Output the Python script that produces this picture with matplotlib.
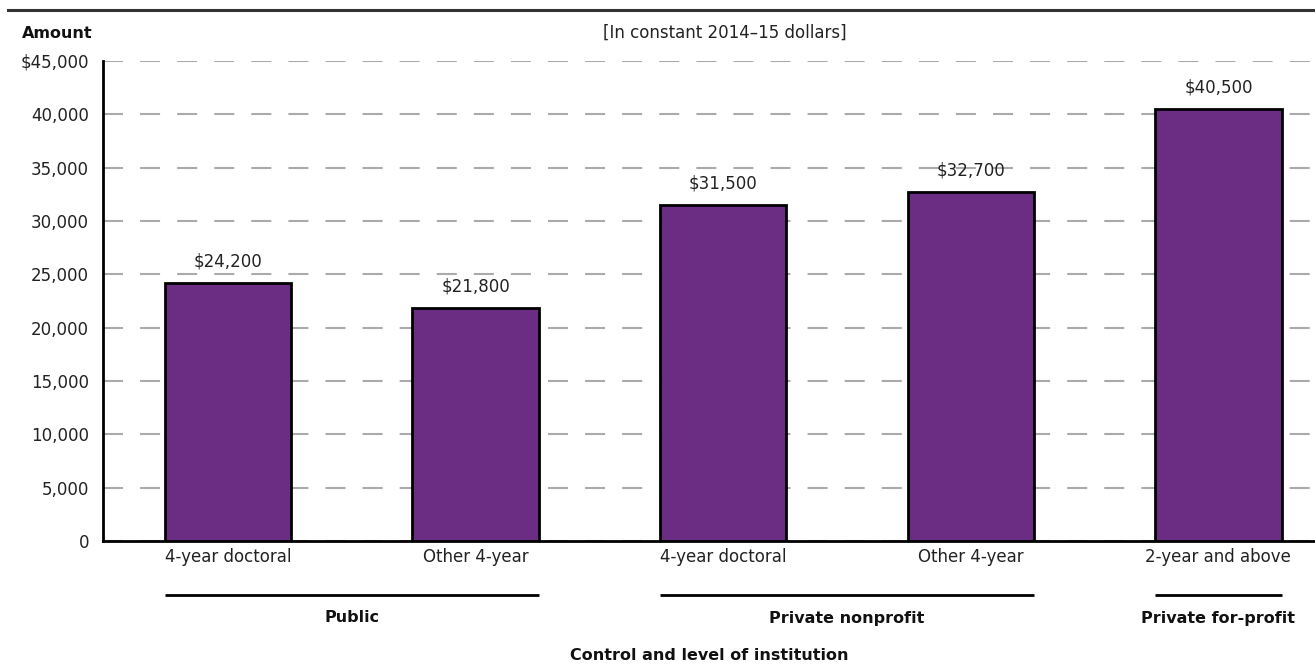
import matplotlib
matplotlib.use("Agg")
import matplotlib.pyplot as plt

categories = ["4-year doctoral", "Other 4-year", "4-year doctoral", "Other 4-year", "2-year and above"]
values = [24200, 21800, 31500, 32700, 40500]
value_labels = ["$24,200", "$21,800", "$31,500", "$32,700", "$40,500"]
groups = ["Public", "Private nonprofit", "Private for-profit"]
group_members = [[0, 1], [2, 3], [4]]
yticks = [0, 5000, 10000, 15000, 20000, 25000, 30000, 35000, 40000, 45000]
ytick_labels = ["0", "5,000", "10,000", "15,000", "20,000", "25,000", "30,000", "35,000", "40,000", "$45,000"]

plt.rcParams['font.family'] = ['DejaVu Sans']
FS = 12
FSB = 11.5
W, H = 1315, 666
fig = plt.figure(figsize=(W / 100, H / 100), dpi=100)
ax = fig.add_axes([103 / W, 1 - 541 / H, (W - 103) / W, (541 - 61) / H])

bar_color = "#6B2C83"
x = list(range(len(values)))
bw = 0.51
ax.bar(x, values, width=bw, color=bar_color, edgecolor="black", linewidth=2, zorder=3)
for xi, v, lab in zip(x, values, value_labels):
    ax.annotate(lab, (xi, v), xytext=(0, 9), textcoords="offset points",
                ha="center", va="bottom", fontsize=FS, color="#222222")

ax.set_xlim(-0.505, 4.39)
ax.set_ylim(0, 45000)
ax.set_yticks(yticks)
ax.set_yticklabels(ytick_labels, fontsize=FS, color="#222222")
ax.set_xticks(x)
ax.set_xticklabels(categories, fontsize=FS, color="#222222")
ax.tick_params(axis="both", length=0, pad=5)
ax.tick_params(axis="y", pad=10)

lw = 1.5
ax.yaxis.grid(True, color="#aaaaaa", linewidth=lw, linestyle=(0, (9.6, 8.2)), zorder=0)
ax.set_axisbelow(True)
for s in ["top", "right"]:
    ax.spines[s].set_visible(False)
ax.spines["left"].set_linewidth(2)
ax.spines["bottom"].set_linewidth(2)
ax.spines["left"].set_zorder(4)

# group lines and labels
trans = ax.get_xaxis_transform()
for g, mem in zip(groups, group_members):
    x0 = min(mem) - bw / 2
    x1 = max(mem) + bw / 2
    ax.plot([x0, x1], [-(595 - 541) / 480, -(595 - 541) / 480], transform=trans,
            color="black", linewidth=2, clip_on=False, solid_capstyle="butt")
    ax.text((x0 + x1) / 2, -(618 - 541) / 480, g, transform=trans, ha="center", va="center",
            fontsize=FSB, fontweight="bold", color="#111111")

fig.text(709 / W, 1 - 656 / H, "Control and level of institution", ha="center", va="center",
         fontsize=FSB, fontweight="bold", color="#111111")
fig.text(22 / W, 1 - 33 / H, "Amount", ha="left", va="center", fontsize=FSB,
         fontweight="bold", color="#111111")
fig.text(725 / W, 1 - 33 / H, "[In constant 2014\u201315 dollars]", ha="center", va="center",
         fontsize=FS, color="#222222")

# top rule
fig.add_artist(plt.Line2D([8 / W, 1], [1 - 10 / H, 1 - 10 / H], color="#333333", linewidth=2.2))

fig.savefig("out.png", dpi=100)
